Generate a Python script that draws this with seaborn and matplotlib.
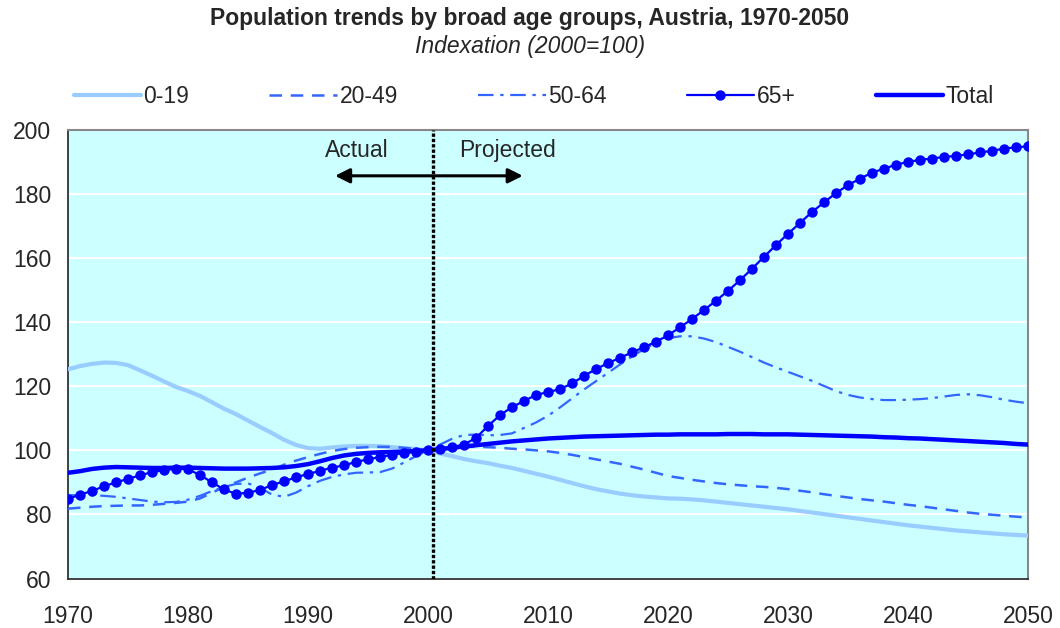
import matplotlib
matplotlib.use("Agg")
import matplotlib.pyplot as plt
import seaborn as sns

sns.set_style("white")
plt.rcParams['font.family'] = ['Liberation Sans', 'DejaVu Sans']

# Index values (2000=100), one value per year 1970-2050
years = list(range(1970, 2051))

age_0_19 = [125.3, 126.3, 127.0, 127.4, 127.3, 126.6, 125.0, 123.3, 121.5, 119.8,
            118.5, 117.0, 115.0, 113.0, 111.3, 109.3, 107.3, 105.4, 103.3, 101.7,
            100.7, 100.5, 100.9, 101.2, 101.4, 101.4, 101.3, 101.0, 100.7, 100.4,
            100.0, 99.0, 98.2, 97.3, 96.6, 96.0, 95.2, 94.5, 93.6, 92.7,
            91.8, 90.8, 89.8, 88.8, 87.9, 87.2, 86.5, 86.0, 85.6, 85.3,
            85.0, 84.9, 84.7, 84.4, 84.0, 83.6, 83.2, 82.8, 82.4, 82.0,
            81.6, 81.1, 80.6, 80.1, 79.6, 79.1, 78.6, 78.1, 77.6, 77.1,
            76.6, 76.2, 75.8, 75.4, 75.0, 74.7, 74.4, 74.1, 73.8, 73.6,
            73.4]

age_20_49 = [81.8, 82.1, 82.4, 82.6, 82.7, 82.8, 82.8, 83.0, 83.3, 83.6,
             84.0, 85.0, 86.8, 88.5, 90.0, 91.5, 92.8, 94.0, 95.5, 96.8,
             97.9, 98.9, 99.8, 100.4, 100.8, 101.0, 101.1, 101.1, 100.8, 100.4,
             100.0, 100.5, 100.9, 101.1, 101.1, 101.0, 100.8, 100.5, 100.3, 100.0,
             99.7, 99.2, 98.6, 97.9, 97.2, 96.5, 95.8, 94.9, 94.0, 93.0,
             92.0, 91.4, 90.8, 90.3, 89.8, 89.4, 89.1, 88.8, 88.6, 88.3,
             87.9, 87.4, 86.9, 86.3, 85.8, 85.3, 84.8, 84.4, 84.0, 83.5,
             83.0, 82.6, 82.1, 81.6, 81.1, 80.6, 80.2, 79.9, 79.6, 79.3,
             79.0]

age_50_64 = [86.0, 86.0, 86.0, 85.8, 85.5, 85.0, 84.5, 84.0, 83.8, 83.9,
             84.6, 85.8, 87.3, 88.6, 89.5, 89.7, 88.3, 86.2, 85.5, 86.8,
             88.8, 90.5, 91.7, 92.5, 93.0, 93.1, 93.2, 94.3, 96.2, 98.2,
             100.0, 101.8, 103.6, 104.8, 104.9, 104.7, 104.8, 105.3, 107.0, 108.7,
             110.8, 113.4, 116.2, 119.0, 121.6, 124.2, 126.8, 129.3, 131.6, 133.6,
             135.0, 135.6, 135.6, 134.9, 133.8, 132.3, 130.8, 129.1, 127.4, 125.9,
             124.5, 123.1, 121.7, 120.1, 118.5, 117.3, 116.5, 116.0, 115.7, 115.7,
             115.8, 116.0, 116.3, 116.8, 117.3, 117.5, 117.2, 116.6, 115.8, 115.2,
             114.7]

age_65_plus = [84.8, 86.2, 87.3, 88.8, 90.0, 91.1, 92.2, 93.2, 93.8, 94.3,
               94.1, 92.3, 90.0, 87.8, 86.4, 86.8, 87.6, 89.2, 90.3, 91.6,
               92.6, 93.6, 94.6, 95.3, 96.4, 97.2, 97.9, 98.6, 99.2, 99.6,
               100.0, 100.4, 101.0, 101.8, 103.9, 107.6, 111.0, 113.5, 115.4, 117.3,
               118.2, 119.1, 120.9, 123.2, 125.4, 127.2, 128.9, 130.6, 132.2, 133.9,
               135.9, 138.4, 141.0, 143.8, 146.7, 149.8, 153.1, 156.7, 160.4, 164.1,
               167.6, 171.0, 174.4, 177.4, 180.3, 182.8, 184.8, 186.7, 187.9, 189.2,
               190.0, 190.7, 191.1, 191.6, 191.9, 192.4, 193.0, 193.5, 194.2, 194.6,
               194.9]

total = [93.0, 93.5, 94.2, 94.6, 94.8, 94.7, 94.6, 94.5, 94.5, 94.6,
         94.6, 94.5, 94.4, 94.3, 94.3, 94.3, 94.4, 94.5, 94.7, 95.1,
         95.7, 96.6, 97.6, 98.4, 98.9, 99.2, 99.4, 99.5, 99.6, 99.8,
         100.0, 100.4, 100.8, 101.2, 101.6, 102.0, 102.4, 102.8, 103.1, 103.4,
         103.7, 103.9, 104.1, 104.3, 104.4, 104.5, 104.6, 104.7, 104.8, 104.9,
         104.9, 105.0, 105.0, 105.0, 105.0, 105.1, 105.1, 105.1, 105.0, 105.0,
         105.0, 104.9, 104.8, 104.7, 104.6, 104.5, 104.4, 104.3, 104.1, 104.0,
         103.8, 103.7, 103.5, 103.3, 103.1, 102.9, 102.7, 102.5, 102.3, 102.0,
         101.8]

fig = plt.figure(figsize=(10.6, 6.28), dpi=100)
ax = fig.add_axes([68 / 1060, 1 - 578.5 / 628, 960 / 1060, 448.5 / 628])
ax.set_facecolor("#ccffff")

sns.lineplot(x=years, y=age_0_19, ax=ax, color="#99ccff", linewidth=3.0,
             label="0-19", zorder=3)
sns.lineplot(x=years, y=age_20_49, ax=ax, color="#3366ff", linewidth=1.8,
             linestyle=(0, (5, 3.5)), label="20-49", zorder=4)
sns.lineplot(x=years, y=age_50_64, ax=ax, color="#3366ff", linewidth=1.6,
             linestyle=(0, (7, 3, 1.5, 3)), label="50-64", zorder=4)
sns.lineplot(x=years, y=age_65_plus, ax=ax, color="#0000ff", linewidth=1.6,
             marker="o", markersize=7.5, markeredgecolor="#0000ff",
             markeredgewidth=0, label="65+", zorder=6)
sns.lineplot(x=years, y=total, ax=ax, color="#0000ff", linewidth=3.2,
             label="Total", zorder=5)

ax.set_xlim(1970, 2050)
ax.set_ylim(60, 200)
ax.set_xticks(range(1970, 2051, 10))
ax.set_yticks(range(60, 201, 20))
ax.yaxis.grid(True, color="white", linewidth=1.5)
ax.xaxis.grid(False)
ax.set_axisbelow(True)
ax.tick_params(axis="x", direction="in", length=5, width=1, color="#333333",
               labelsize=16.5, pad=19)
ax.tick_params(axis="y", length=0, labelsize=16.5, pad=12)
for side in ["left", "bottom"]:
    ax.spines[side].set_color("#333333")
    ax.spines[side].set_linewidth(1.3)
for side in ["top", "right"]:
    ax.spines[side].set_color("#888888")
    ax.spines[side].set_linewidth(1.5)
ax.set_xlabel("")
ax.set_ylabel("")

# Actual / projected divider
ax.axvline(2000.4, color="black", linestyle=(0, (1, 0.6)), linewidth=2.4, zorder=7)
ax.annotate("", xy=(1992.25, 185.7), xytext=(2007.9, 185.7),
            arrowprops=dict(arrowstyle="<|-|>", color="black", lw=2.2,
                            mutation_scale=22, shrinkA=0, shrinkB=0), zorder=8)
ax.text(1994.05, 193.6, "Actual", ha="center", va="center", fontsize=16.5)
ax.text(2006.6, 193.6, "Projected", ha="center", va="center", fontsize=16.5)

ax.legend(loc="center", bbox_to_anchor=(0.485, 1.0736), ncol=5, frameon=False,
          fontsize=16.5, handlelength=2.95, handletextpad=0.1, columnspacing=3.5,
          borderaxespad=0)

fig.text(0.5, 1 - 18 / 628, "Population trends by broad age groups, Austria, 1970-2050",
         ha="center", va="center", fontsize=16.5, fontweight="bold")
fig.text(0.5, 1 - 47 / 628, "Indexation (2000=100)", ha="center", va="center",
         fontsize=16.5, style="italic")

fig.savefig("out.png", dpi=100)
plt.close(fig)
